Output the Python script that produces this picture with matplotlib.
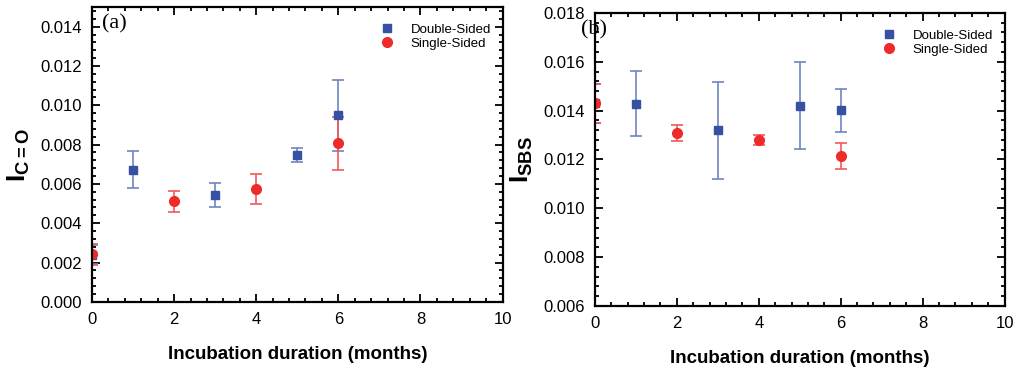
import matplotlib.pyplot as plt
from matplotlib.ticker import MultipleLocator, AutoMinorLocator

plt.rcParams['font.family'] = ['Liberation Sans', 'DejaVu Sans']
plt.rcParams['mathtext.fontset'] = 'custom'
plt.rcParams['mathtext.rm'] = 'Liberation Sans'
plt.rcParams['mathtext.bf'] = 'Liberation Sans:bold'

# (a) carbonyl index
months_ds_a = [0, 1, 3, 5, 6]
ds_a = [0.0024, 0.00673, 0.00546, 0.00747, 0.00949]
ds_a_err = [0.0005, 0.00092, 0.00061, 0.00037, 0.00182]
months_ss_a = [0, 2, 4, 6]
ss_a = [0.00241, 0.00512, 0.00575, 0.00807]
ss_a_err = [0.00053, 0.00054, 0.00077, 0.00134]

# (b) SBS index
months_ds_b = [0, 1, 3, 5, 6]
ds_b = [0.0143, 0.01428, 0.01319, 0.0142, 0.01401]
ds_b_err = [0.0008, 0.00134, 0.002, 0.00177, 0.00087]
months_ss_b = [0, 2, 4, 6]
ss_b = [0.0143, 0.01308, 0.01281, 0.01215]
ss_b_err = [0.0008, 0.00032, 0.00021, 0.00054]

blue = '#3650a2'
red = '#ee2b2b'

fig = plt.figure(figsize=(10.24, 3.69), dpi=100)
ax1 = fig.add_axes([0.0898, 0.182, 0.401, 0.799])
ax2 = fig.add_axes([0.581, 0.171, 0.400, 0.794])


def draw(ax, xd, yd, ed, xs, ys, es, ylim, ylabel, tag, tag_x):
    c1 = ax.errorbar(xd, yd, yerr=ed, fmt='s', color=blue, ecolor='#6f84c0',
                     elinewidth=1.2, capsize=4, capthick=1.2, markersize=6)
    c2 = ax.errorbar(xs, ys, yerr=es, fmt='o', color=red, ecolor='#f05a5a',
                     elinewidth=1.2, capsize=4, capthick=1.2, markersize=7)
    ax.set_xlim(0, 10)
    ax.set_ylim(*ylim)
    ax.xaxis.set_major_locator(MultipleLocator(2))
    ax.xaxis.set_minor_locator(AutoMinorLocator(5))
    ax.yaxis.set_major_locator(MultipleLocator(0.002))
    ax.yaxis.set_minor_locator(AutoMinorLocator(5))
    ax.yaxis.set_major_formatter(lambda v, p: f'{v:.3f}')
    ax.tick_params(which='both', direction='in', top=True, right=True,
                   labelsize=12, width=1.3)
    ax.tick_params(which='major', length=6, pad=7)
    ax.tick_params(which='minor', length=3)
    for s in ax.spines.values():
        s.set_linewidth(1.6)
    ax.set_xlabel('Incubation duration (months)', fontsize=13.5,
                  fontweight='bold', labelpad=14)
    ax.set_ylabel(ylabel, fontsize=19, labelpad=6)
    ax.text(tag_x, 0.975, tag, transform=ax.transAxes, va='top', ha='left',
            fontsize=16, family='Liberation Serif')
    ax.legend([c1[0], c2[0]], ['Double-Sided', 'Single-Sided'],
              loc='upper right', bbox_to_anchor=(0.995, 0.975), frameon=False,
              fontsize=9.5, handletextpad=0.8, borderaxespad=0.3,
              labelspacing=0.15)


draw(ax1, months_ds_a, ds_a, ds_a_err, months_ss_a, ss_a, ss_a_err,
     (0, 0.015), r'$\mathbf{I_{C{=}O}}$', '(a)', 0.025)
draw(ax2, months_ds_b, ds_b, ds_b_err, months_ss_b, ss_b, ss_b_err,
     (0.006, 0.018), r'$\mathbf{I_{SBS}}$', '(b)', -0.035)

fig.savefig('out.png', dpi=100)
